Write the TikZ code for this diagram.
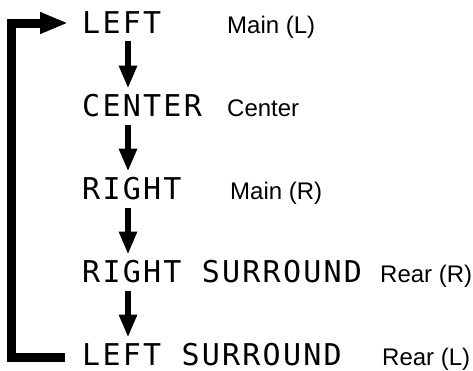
\documentclass[tikz,border=0pt]{standalone}
\usepackage{fontspec}
\setmainfont{Liberation Sans}
\newfontfamily\lcdfont[LetterSpace=7.5]{DejaVu Sans Mono}
\usetikzlibrary{positioning,arrows.meta}

\begin{document}
\begin{tikzpicture}[x=1pt,y=-1pt,node distance=83pt,on grid,
  chan/.style={inner sep=0pt,font=\lcdfont\fontsize{30}{30}\selectfont},
  tag/.style={inner sep=0pt,anchor=base west,font=\fontsize{24}{24}\selectfont},
  flow/.style={draw,line width=6pt,-{Triangle[length=23pt,width=17pt]},shorten <=8pt,shorten >=5pt},
  loopback/.style={line width=9pt,-{Triangle[length=28pt,width=20pt]},shorten <=17pt,shorten >=14pt}]
  \useasboundingbox (0,0) rectangle (473,370);
  \coordinate (axis) at (128,0);
  \coordinate (colA) at (227,0);
  \coordinate (colB) at (380,0);
  \coordinate (railtop) at (11.5,23);
  \coordinate (railbot) at (11.5,357);
  % channel order
  \node[chan,anchor=base west] (lt) at (82,33) {LEFT};
  \node[chan,below=of lt.base west,anchor=base west] (ct) {CENTER};
  \node[chan,below=of ct.base west,anchor=base west] (rt) {RIGHT};
  \node[chan,below=of rt.base west,anchor=base west] (rs) {RIGHT SURROUND};
  \node[chan,below=of rs.base west,anchor=base west] (ls) {LEFT SURROUND};
  % speaker names
  \node[tag] (tlt) at (lt.base -| colA) {Main (L)};
  \node[tag] (tct) at (ct.base -| colA) {Center};
  \node[tag,xshift=3pt] (trt) at (rt.base -| colA) {Main (R)};
  \node[tag] (trs) at (rs.base -| colB) {Rear (R)};
  \node[tag,xshift=2pt] (tls) at (ls.base -| colB) {Rear (L)};
  \path
    (lt.south -| axis) edge[flow] (ct.north -| axis)
    (ct.south -| axis) edge[flow] (rt.north -| axis)
    (rt.south -| axis) edge[flow] (rs.north -| axis)
    (rs.south -| axis) edge[flow] (ls.north -| axis);
  \draw[loopback] (ls.west |- railbot) -- (railbot) -- (railtop) -- (lt.west |- railtop);
\end{tikzpicture}
\end{document}
